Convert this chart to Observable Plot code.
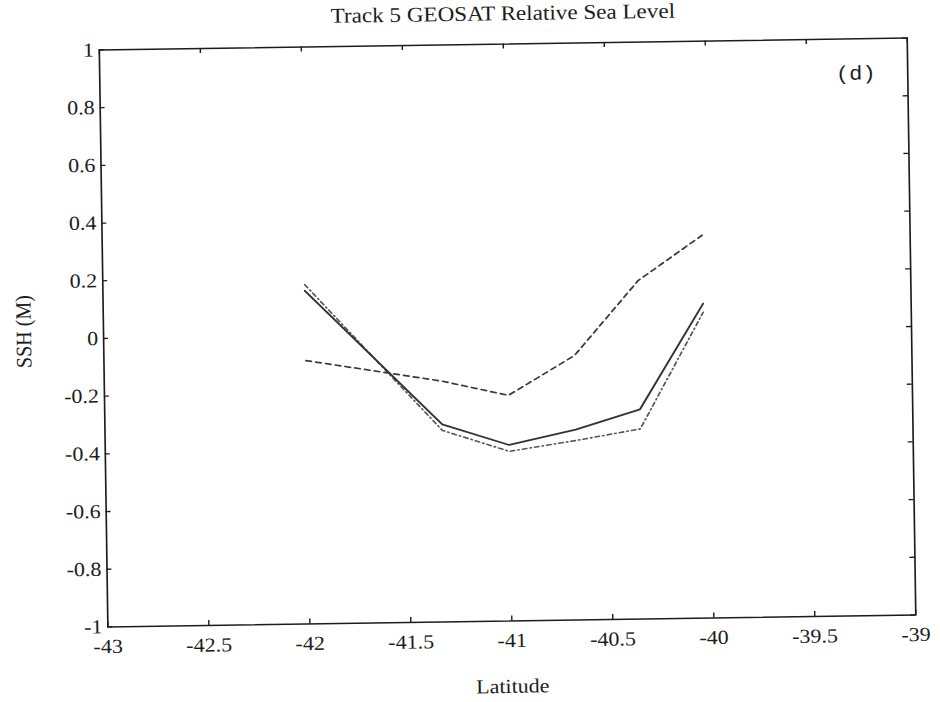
<!DOCTYPE html>
<html>
<head>
<meta charset="utf-8">
<script src="https://cdn.jsdelivr.net/npm/d3@7"></script>
<script src="https://cdn.jsdelivr.net/npm/@observablehq/plot@0.6"></script>
<style>
  html, body { margin: 0; padding: 0; background: #fff; }
  #wrap { position: absolute; left: 0; top: 0; width: 940px; height: 702px;
          transform: rotate(-0.85deg); transform-origin: 507px 332px; }
</style>
</head>
<body>
<div id="wrap"></div>
<script>
// ---- data ----
const latitude = [-42, -41.33, -41, -40.67, -40.35, -40.03];
const solidSSH = [0.155, -0.315, -0.39, -0.34, -0.273, 0.09];
const dashDotSSH = [0.176, -0.336, -0.412, -0.378, -0.341, 0.06];
const dashedSSH = [-0.087, -0.165, -0.218, -0.083, 0.173, 0.327];
const xTicks = [-43, -42.5, -42, -41.5, -41, -40.5, -40, -39.5, -39];
const yTicks = [1, 0.8, 0.6, 0.4, 0.2, 0, -0.2, -0.4, -0.6, -0.8, -1];
const titleText = "Track 5 GEOSAT Relative Sea Level";
const xLabel = "Latitude";
const yLabel = "SSH (M)";
const panelTag = "(d)";

// ---- layout ----
const SX = 1.1;                // horizontal stretch of the scanned page
const W = 940 / SX;
const H = 702;
const mL = 103 / SX, mR = (940 - 911) / SX, mT = 43.5, mB = 702 - 620.5;
const frameW = W - mL - mR, frameH = H - mT - mB;
const serif = "'Liberation Serif', 'Times New Roman', serif";
const ink = "#1c1c1c";

const rows = (ys) => latitude.map((x, i) => ({x, y: ys[i]}));

const chart = Plot.plot({
  width: W,
  height: H,
  marginLeft: mL, marginRight: mR, marginTop: mT, marginBottom: mB,
  x: {domain: [-43, -39], label: null},
  y: {domain: [-1, 1], label: null},
  style: {fontFamily: serif, color: ink, background: "#fff", overflow: "visible"},
  marks: [
    Plot.frame({stroke: ink, strokeWidth: 1.5}),
    // inward ticks on all four sides
    Plot.tickX(xTicks, {x: d => d, insetTop: frameH - 5, stroke: ink, strokeWidth: 1.3}),
    Plot.tickX(xTicks, {x: d => d, insetBottom: frameH - 5, stroke: ink, strokeWidth: 1.3}),
    Plot.tickY(yTicks, {y: d => d, insetRight: frameW - 4.5, stroke: ink, strokeWidth: 1.3}),
    Plot.tickY(yTicks, {y: d => d, insetLeft: frameW - 4.5, stroke: ink, strokeWidth: 1.3}),
    Plot.axisX(xTicks, {anchor: "bottom", tickSize: 0, tickPadding: 12, tickFormat: d => String(d),
      fontSize: 20, fontFamily: serif, fill: ink, label: null}),
    Plot.axisY(yTicks, {anchor: "left", tickSize: 0, tickPadding: 5, tickFormat: d => String(d),
      fontSize: 20, fontFamily: serif, fill: ink, label: null}),
    // series
    Plot.line(rows(dashDotSSH), {x: "x", y: "y", stroke: "#555", strokeWidth: 1.6, strokeDasharray: "4,3,1.2,3"}),
    Plot.line(rows(dashedSSH), {x: "x", y: "y", stroke: "#3a3a3a", strokeWidth: 1.7, strokeDasharray: "5,4"}),
    Plot.line(rows(solidSSH), {x: "x", y: "y", stroke: "#333", strokeWidth: 1.8}),
    // texts
    Plot.text([titleText], {frameAnchor: "top", dy: 13 - mT, lineAnchor: "middle",
      fontSize: 21, fontFamily: serif, fill: ink}),
    Plot.text([xLabel], {frameAnchor: "bottom", dy: 686 - 620.5, lineAnchor: "middle",
      fontSize: 20, fontFamily: serif, fill: ink}),
    Plot.text([yLabel], {frameAnchor: "left", rotate: -90, dx: (23.4 - 103) / SX, dy: -8,
      lineAnchor: "middle", textAnchor: "middle", fontSize: 20, fontFamily: serif, fill: ink}),
    Plot.text([panelTag], {frameAnchor: "top-right", dx: -52 / SX, dy: 34.5, lineAnchor: "middle",
      textAnchor: "middle", fontSize: 20, fontFamily: "'Liberation Mono', monospace", fill: ink})
  ]
});

chart.style.transform = `scaleX(${SX})`;
chart.style.transformOrigin = "0 0";
chart.style.maxWidth = "none";
document.getElementById("wrap").appendChild(chart);
</script>
</body>
</html>
